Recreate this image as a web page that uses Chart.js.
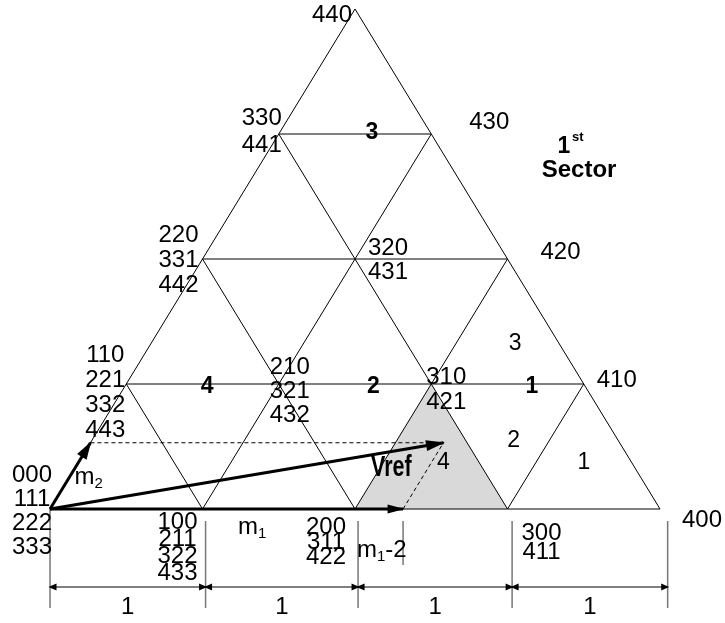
<!DOCTYPE html>
<html>
<head>
<meta charset="utf-8">
<script src="https://cdn.jsdelivr.net/npm/chart.js@4.4.1/dist/chart.umd.min.js"></script>
<style>
  html, body { margin: 0; padding: 0; background: #fff; }
</style>
</head>
<body>
<canvas id="sectorChart" width="725" height="623"></canvas>
<script>
// triangle side in unit steps, lattice point (a, b) = step a along row b
const SIDE = 4;
const shadedTri = [[2, 0], [2, 1], [3, 0]]; // 200 - 310 - 300
const m1Len = 2.315;
const m2Len = 0.53;
const dimTicks = [0, 1.02, 2.02, 3.03, 4.05];
const dimLabels = ["1", "1", "1", "1"];

const vertexKeys = ["0,0", "1,0", "2,0", "3,0", "4,0", "0,1", "1,1", "2,1", "3,1", "0,2", "1,2", "2,2", "0,3", "1,3", "0,4"];
const vertexCodes = [
  ["000", "111", "222", "333"],
  ["100", "211", "322", "433"],
  ["200", "311", "422"],
  ["300", "411"],
  ["400"],
  ["110", "221", "332", "443"],
  ["210", "321", "432"],
  ["310", "421"],
  ["410"],
  ["220", "331", "442"],
  ["320", "431"],
  ["420"],
  ["330", "441"],
  ["430"],
  ["440"],
];
const boldRegions = ["3", "4", "2", "1"];
const plainRegions = ["3", "2", "1", "4"];

// label placement: [dx, dy of first line, line step] in px from the vertex
const vertexLayout = {
  "0,0": [-18, -34, 24], "1,0": [-25, 13, 17], "2,0": [-29, 18, 15], "3,0": [34, 24, 19],
  "4,0": [42, 11, 0], "0,1": [-21, -29, 25], "1,1": [11, -17, 24], "2,1": [15, -7, 25],
  "3,1": [33, -4, 0], "0,2": [-24, -24, 25], "1,2": [33, -11, 24], "2,2": [53, -7, 0],
  "0,3": [-17, -16, 27], "1,3": [58, -12, 0], "0,4": [-23, 6, 0],
};
const boldRegionPos = [[2.11, 3.01], [1.03, 0.98], [2.12, 0.98], [3.16, 0.98]];
const plainRegionPos = [[3.05, 1.32], [3.04, 0.55], [3.50, 0.37], [2.58, 0.37]];

const FONT = "'Liberation Sans', Arial, sans-serif";

const toXY = (a, b) => ({ x: a + b / 2, y: b });

// grid segments in x/y units
const segs = [];
for (let b = 0; b < SIDE; b++) segs.push([toXY(0, b), toXY(SIDE - b, b)]);
for (let k = 0; k < SIDE; k++) segs.push([toXY(k, 0), toXY(k, SIDE - k)]);
for (let k = 1; k <= SIDE; k++) segs.push([toXY(k, 0), toXY(0, k)]);

const m1Tip = { x: m1Len, y: 0 };
const m2Tip = { x: m2Len / 2, y: m2Len };
const vrefTip = { x: m1Len + m2Len / 2, y: m2Len };
const origin = { x: 0, y: 0 };

const dimY = -0.624, dimTop = -0.096, dimBottom = -0.792;

const line = (pts, color, width, dash) => ({
  data: pts, showLine: true, borderColor: color, borderWidth: width,
  borderDash: dash || [], pointRadius: 0, fill: false,
});

const datasets = [];
segs.forEach((s) => datasets.push(line(s, "#000", 1)));
datasets.push(line([m2Tip, vrefTip], "#000", 1, [4, 3]));
datasets.push(line([m1Tip, vrefTip], "#000", 1, [4, 3]));
datasets.push(line([origin, m1Tip], "#000", 3));
datasets.push(line([origin, m2Tip], "#000", 3));
datasets.push(line([origin, vrefTip], "#000", 3));
dimTicks.forEach((t, i) => {
  datasets.push(line([{ x: t, y: i === 0 ? 0 : dimTop }, { x: t, y: dimBottom }], "#777", 1.5));
});
datasets.push(line([{ x: m1Len, y: dimTop }, { x: m1Len, y: -0.448 }], "#777", 1.5));
datasets.push(line([{ x: dimTicks[0], y: dimY }, { x: dimTicks[dimTicks.length - 1], y: dimY }], "#000", 1));

function arrowHead(ctx, from, to, len, half) {
  const ang = Math.atan2(to.y - from.y, to.x - from.x);
  const tx = to.x + Math.cos(ang) * 1.5, ty = to.y + Math.sin(ang) * 1.5;
  ctx.beginPath();
  ctx.moveTo(tx, ty);
  ctx.lineTo(tx - len * Math.cos(ang) + half * Math.sin(ang), ty - len * Math.sin(ang) - half * Math.cos(ang));
  ctx.lineTo(tx - len * Math.cos(ang) - half * Math.sin(ang), ty - len * Math.sin(ang) + half * Math.cos(ang));
  ctx.closePath();
  ctx.fill();
}

const diagramPlugin = {
  id: "diagram",
  beforeDatasetsDraw(chart) {
    const { ctx, scales } = chart;
    const px = (p) => ({ x: scales.x.getPixelForValue(p.x), y: scales.y.getPixelForValue(p.y) });
    ctx.save();
    ctx.fillStyle = "#d9d9d9";
    ctx.beginPath();
    shadedTri.forEach(([a, b], i) => {
      const p = px(toXY(a, b));
      if (i === 0) ctx.moveTo(p.x, p.y); else ctx.lineTo(p.x, p.y);
    });
    ctx.closePath();
    ctx.fill();
    ctx.restore();
  },
  afterDatasetsDraw(chart) {
    const { ctx, scales } = chart;
    const px = (p) => ({ x: scales.x.getPixelForValue(p.x), y: scales.y.getPixelForValue(p.y) });
    ctx.save();
    ctx.fillStyle = "#000";

    // vector heads
    arrowHead(ctx, px(origin), px(m1Tip), 17, 4.5);
    arrowHead(ctx, px(origin), px(m2Tip), 18, 5.5);
    arrowHead(ctx, px(origin), px(vrefTip), 19, 5.5);

    // dimension heads
    for (let i = 0; i < dimTicks.length - 1; i++) {
      const l = px({ x: dimTicks[i], y: dimY });
      const r = px({ x: dimTicks[i + 1], y: dimY });
      arrowHead(ctx, { x: l.x + 20, y: l.y }, l, 8, 3.5);
      arrowHead(ctx, { x: r.x - 20, y: r.y }, r, 8, 3.5);
    }

    ctx.textAlign = "center";
    ctx.textBaseline = "middle";

    // vertex codes
    ctx.font = "24px " + FONT;
    vertexKeys.forEach((key, i) => {
      const [a, b] = key.split(",").map(Number);
      const p = px(toXY(a, b));
      const [dx, dy, step] = vertexLayout[key];
      vertexCodes[i].forEach((t, j) => ctx.fillText(t, p.x + dx, p.y + dy + j * step));
    });

    // region numbers
    ctx.font = "bold 23px " + FONT;
    boldRegions.forEach((t, i) => {
      const p = px({ x: boldRegionPos[i][0], y: boldRegionPos[i][1] });
      ctx.fillText(t, p.x, p.y);
    });
    ctx.font = "23px " + FONT;
    plainRegions.forEach((t, i) => {
      const p = px({ x: plainRegionPos[i][0], y: plainRegionPos[i][1] });
      ctx.fillText(t, p.x, p.y);
    });

    // dimension labels
    ctx.font = "24px " + FONT;
    dimLabels.forEach((t, i) => {
      const p = px({ x: (dimTicks[i] + dimTicks[i + 1]) / 2, y: -0.784 });
      ctx.fillText(t, p.x, p.y);
    });

    // subscripted names
    ctx.textAlign = "left";
    const subText = (base, sub, tail, at, big) => {
      const p = px(at);
      ctx.font = big;
      ctx.fillText(base, p.x, p.y);
      let x = p.x + ctx.measureText(base).width;
      ctx.font = "15px " + FONT;
      ctx.fillText(sub, x, p.y + 7);
      x += ctx.measureText(sub).width;
      if (tail) {
        ctx.font = big;
        ctx.fillText(tail, x, p.y);
      }
    };
    subText("m", "1", "", { x: 1.233, y: -0.144 }, "24px " + FONT);
    subText("m", "1", "-2", { x: 2.013, y: -0.328 }, "24px " + FONT);
    subText("m", "2", "", { x: 0.16, y: 0.256 }, "24px " + FONT);

    // Vref label, tall and narrow as in the figure
    let p = px({ x: 2.105, y: 0.328 });
    ctx.save();
    ctx.translate(p.x, p.y);
    ctx.scale(0.74, 1);
    ctx.font = "bold 29px " + FONT;
    ctx.fillText("Vref", 0, 0);
    ctx.restore();

    // sector caption
    ctx.textAlign = "center";
    p = px({ x: 3.37, y: 2.896 });
    ctx.font = "bold 23px " + FONT;
    ctx.fillText("1", p.x, p.y);
    ctx.font = "bold 13px " + FONT;
    ctx.textAlign = "left";
    ctx.fillText("st", p.x + 8, p.y - 10);
    ctx.textAlign = "center";
    ctx.font = "bold 24px " + FONT;
    p = px({ x: 3.469, y: 2.712 });
    ctx.fillText("Sector", p.x, p.y);

    ctx.restore();
  },
};

new Chart(document.getElementById("sectorChart"), {
  type: "scatter",
  data: { datasets },
  options: {
    responsive: false,
    animation: false,
    layout: { padding: 0 },
    plugins: { legend: { display: false }, tooltip: { enabled: false } },
    scales: {
      x: { type: "linear", display: false, min: -0.328, max: 4.426 },
      y: { type: "linear", display: false, min: -0.912, max: 4.072 },
    },
  },
  plugins: [diagramPlugin],
});
</script>
</body>
</html>
